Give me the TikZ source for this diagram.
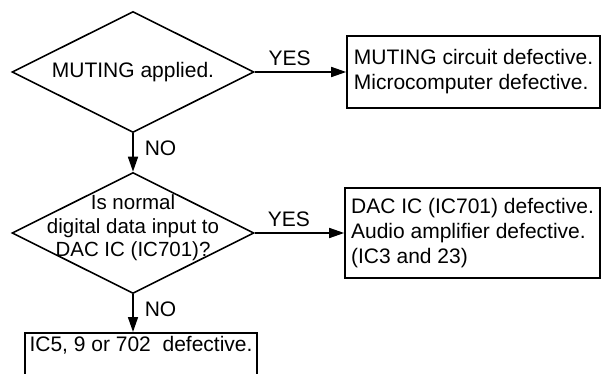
\documentclass[tikz,border=0pt]{standalone}
\usepackage{fontspec}
\setmainfont{Liberation Sans}
\usetikzlibrary{shapes.geometric,arrows.meta}

\begin{document}
\begin{tikzpicture}[x=1pt,y=-1pt,line width=1.6pt]
   \tikzset{ask/.style={draw, diamond, minimum width=242pt, minimum height=121pt, inner sep=0pt},
            box/.style 2 args={draw, align=left, inner xsep=1pt, minimum width=#1, minimum height=#2, font=\fontsize{21}{25}\selectfont},
            tag/.style={font=\fontsize{21}{25}\selectfont, inner sep=3pt},
            go/.style={-{Triangle[length=15pt,width=10pt]}}};

\useasboundingbox (0,0) rectangle (602,374);

\node[ask, label={[tag]center:MUTING applied.}] (1) at (133,72) {};
\node[box={253pt}{72pt}] (2) at (473.5,72) {MUTING circuit defective.\\Microcomputer defective.};
\node[ask, label={[tag, align=center, yshift=5pt, font=\fontsize{20.5}{23.5}\selectfont]center:{Is normal\\digital data input to\\DAC IC (IC701)?}}] (3) at (133,233) {};
\node[box={255pt}{90pt}] (4) at (472.5,233) {DAC IC (IC701) defective.\\Audio amplifier defective.\\(IC3 and 23)};
\node[box={232pt}{0pt}, text depth=30pt, anchor=north] (5) at (141,332) {IC5, 9 or 702\ \ defective.};

\draw[go] (1) -- node[tag, above=2pt, pos=0.38] {YES} (2);
\draw[go] (1) -- node[tag, right=8pt, pos=0.39] {NO} (3);
\draw[go] (3) -- node[tag, above=2pt, pos=0.38] {YES} (4);
\draw[go] (3.south) -- node[tag, right=8pt, pos=0.4] {NO} (3.south |- 5.north);

\end{tikzpicture}
\end{document}
